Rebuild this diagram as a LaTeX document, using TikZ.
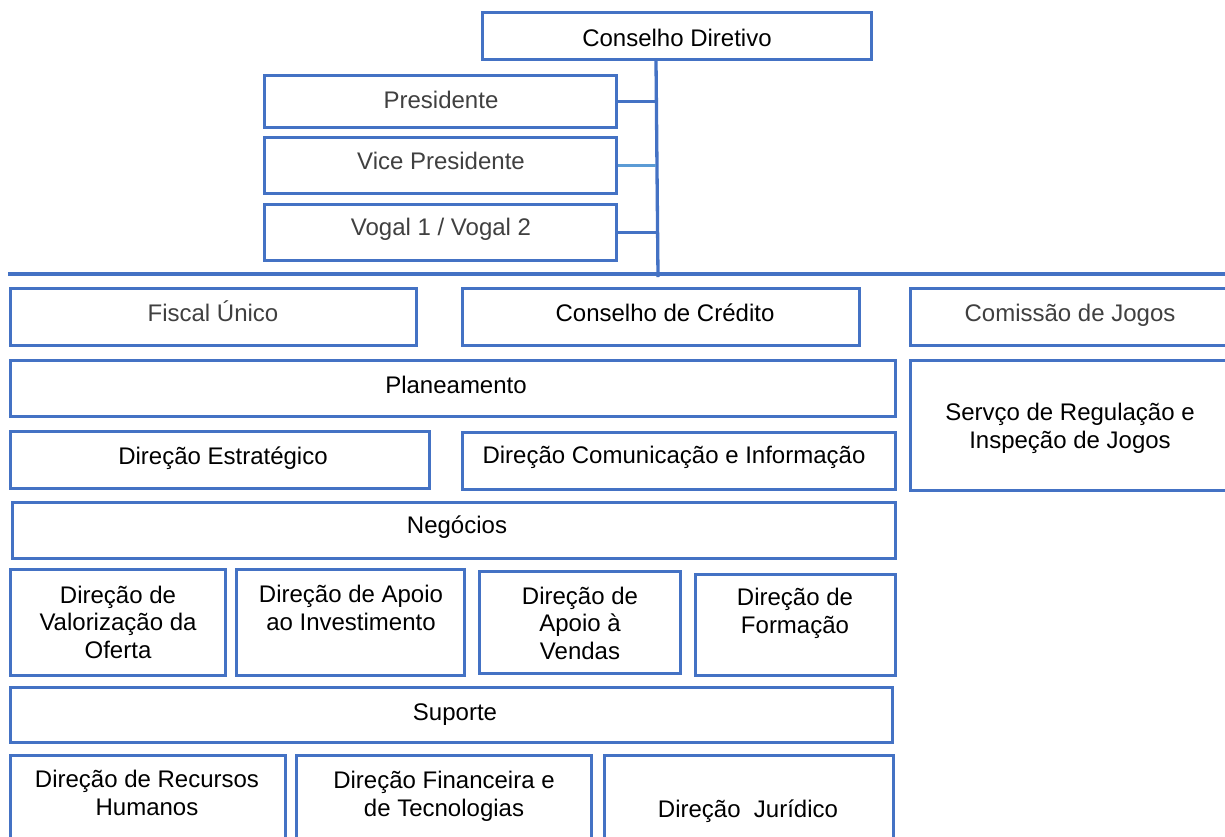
\documentclass[tikz,border=0pt]{standalone}
\usepackage{fontspec}
\setmainfont{Liberation Sans}
\definecolor{orgblue}{HTML}{4472C4}
\definecolor{linkblue}{HTML}{5B9BD5}
\definecolor{softblack}{HTML}{404040}
\tikzset{
  box/.style={draw=orgblue, line width=3.3pt, rectangle, inner sep=0pt, fill=white},
  lbl/.style={anchor=base, align=center, inner sep=0pt, text=black,
              font=\fontsize{24}{27.5}\selectfont},
  glbl/.style={lbl, text=softblack},
  link/.style={draw=orgblue, line width=3.3pt},
}
% box from outer corner (x1,y1) to (x2,y2), in pixel-like units
\newcommand\orgbox[5]{%
  \node[box, minimum width={(#4)-(#2)-3.3}, minimum height={(#5)-(#3)-3.3}]
    (#1) at ({((#2)+(#4))/2},{((#3)+(#5))/2}) {};}
\begin{document}
\begin{tikzpicture}[x=1pt, y=-1pt]
\useasboundingbox (0,0) rectangle (1225,836);
\clip (0,0) rectangle (1225,836);

% board and its members
\orgbox{cd}{481}{11}{873}{61}
\orgbox{pres}{263}{74}{618}{129}
\orgbox{vice}{263}{136}{618}{195}
\orgbox{vogal}{263}{203}{618}{262}

% trunk and separator bar
\coordinate (t0) at (656,61);
\coordinate (t1) at (658,277);
\coordinate (barL) at (8,274);
\coordinate (barR) at (1230,274);
\draw[link] (barL) -- (barR);
\draw[link] (t0) -- (t1);
\draw[link] (pres.east) -- (pres.east -| t0);
\draw[draw=linkblue, line width=3.3pt] (vice.east) -- (vice.east -| t0);
\draw[link] (vogal.east) -- (vogal.east -| t0);

% units
\orgbox{fiscal}{9}{287}{418}{347}
\orgbox{credito}{461}{287}{861}{347}
\orgbox{comissao}{909}{287}{1232}{347}
\orgbox{plan}{9}{359}{897}{418}
\orgbox{servico}{909}{359}{1232}{492}
\orgbox{estrat}{9}{430}{431}{490}
\orgbox{comun}{461}{431}{897}{491}
\orgbox{neg}{11}{501}{897}{560}
\orgbox{valor}{9}{568}{227}{677}
\orgbox{invest}{235}{568}{466}{677}
\orgbox{vendas}{478}{570}{682}{675}
\orgbox{formacao}{694}{573}{897}{677}
\orgbox{suporte}{9}{686}{894}{744}
\orgbox{rh}{9}{754}{287}{860}
\orgbox{fin}{295}{754}{593}{860}
\orgbox{jur}{603}{754}{895}{860}

% labels (base anchor = baseline of the last line)
\node[lbl]  (tcd) at (677,46) {Conselho Diretivo};
\node[glbl] (tpres) at (441,108) {Presidente};
\node[glbl] (tvice) at (441,169) {Vice Presidente};
\node[glbl] (tvogal) at (441,235) {Vogal 1 / Vogal 2};
\node[glbl] (tfiscal) at (213,321) {Fiscal Único};
\node[lbl]  (tcredito) at (665,321) {Conselho de Crédito};
\node[glbl] (tcomissao) at (1070,321) {Comissão de Jogos};
\node[lbl]  (tplan) at (456,393) {Planeamento};
\node[lbl]  (tservico) at (1070,448) {Servço de Regulação e\\Inspeção de Jogos};
\node[lbl]  (testrat) at (223,464) {Direção Estratégico};
\node[lbl]  (tcomun) at (674,463) {Direção Comunicação e Informação};
\node[lbl]  (tneg) at (457,533) {Negócios};
\node[lbl]  (tvalor) at (118,658) {Direção de\\Valorização da\\Oferta};
\node[lbl]  (tinvest) at (351,630) {Direção de Apoio\\ao Investimento};
\node[lbl]  (tvendas) at (580,659) {Direção de\\Apoio à\\Vendas};
\node[lbl]  (tformacao) at (795,633) {Direção de\\Formação};
\node[lbl]  (tsuporte) at (455,720) {Suporte};
\node[lbl]  (trh) at (147,815) {Direção de Recursos\\Humanos};
\node[lbl]  (tfin) at (444,816) {Direção Financeira e\\de Tecnologias};
\node[lbl]  (tjur) at (748,817) {Direção\ \ Jurídico};
\end{tikzpicture}
\end{document}
